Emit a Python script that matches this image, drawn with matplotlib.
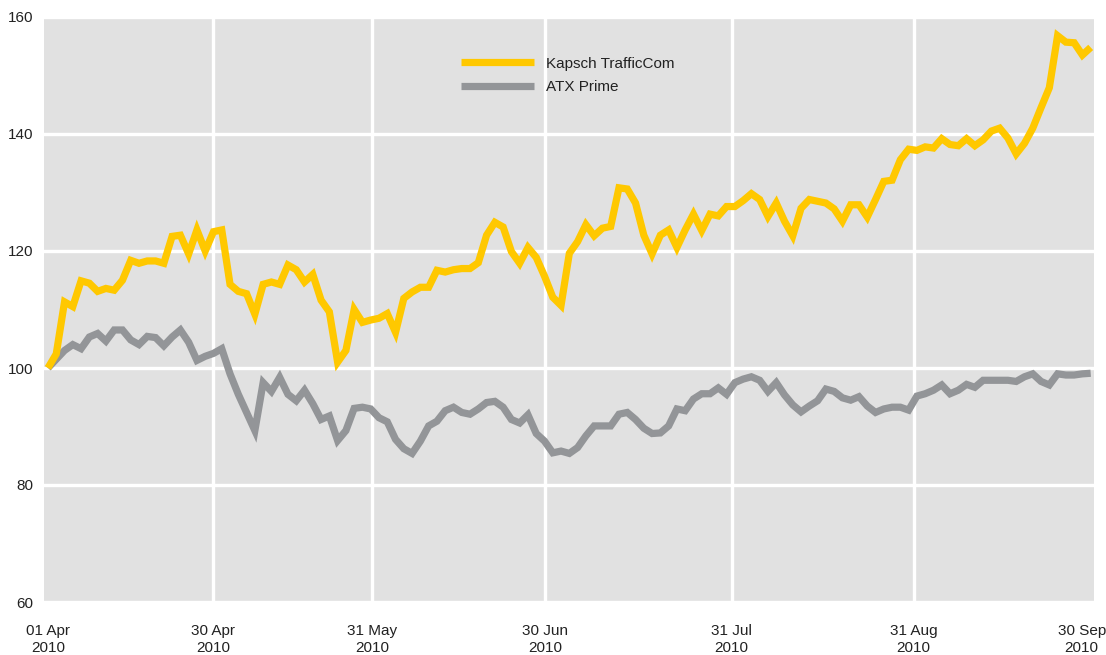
import matplotlib
matplotlib.use("Agg")
import matplotlib.pyplot as plt
import matplotlib.transforms as mtransforms


# indexed performance, 01 Apr 2010 = 100, one value per trading day
kapsch = [
    100.0, 102.4, 111.3, 110.5, 114.9, 114.5, 113.1, 113.6, 113.3, 115.0,
    118.4, 117.9, 118.3, 118.3, 117.9, 122.5, 122.7, 119.5, 123.6, 120.0,
    123.3, 123.6, 114.3, 113.1, 112.7, 109.2, 114.3, 114.7, 114.3, 117.6,
    116.8, 114.7, 116.0, 111.6, 109.6, 101.0, 103.0, 110.0, 107.8, 108.2,
    108.5, 109.3, 106.1, 111.9, 113.0, 113.8, 113.8, 116.7, 116.4, 116.8,
    117.0, 117.0, 118.0, 122.7, 124.9, 124.1, 119.9, 117.9, 120.6, 118.9,
    115.7, 112.1, 110.7, 119.6, 121.6, 124.5, 122.6, 123.9, 124.2, 130.8,
    130.6, 128.2, 122.7, 119.5, 122.7, 123.6, 120.6, 123.6, 126.3, 123.5,
    126.3, 126.0, 127.6, 127.6, 128.6, 129.8, 128.8, 125.9, 128.2, 125.1,
    122.6, 127.3, 128.8, 128.5, 128.2, 127.2, 125.1, 127.9, 127.9, 125.8,
    128.8, 131.9, 132.1, 135.6, 137.4, 137.2, 137.8, 137.6, 139.2, 138.2,
    138.0, 139.2, 138.0, 139.0, 140.5, 141.0, 139.3, 136.6, 138.4, 141.0,
    144.5, 147.9, 156.8, 155.7, 155.6, 153.5, 154.8,
]

atx = [
    100.0, 101.5, 103.0, 104.0, 103.3, 105.3, 105.9, 104.6, 106.5, 106.5,
    104.8, 104.0, 105.4, 105.2, 103.8, 105.3, 106.5, 104.4, 101.3, 102.0,
    102.5, 103.3, 99.0, 95.5, 92.4, 89.3, 97.5, 96.0, 98.4, 95.5,
    94.4, 96.2, 93.9, 91.2, 91.8, 87.6, 89.3, 93.1, 93.3, 93.0,
    91.5, 90.8, 87.8, 86.2, 85.4, 87.5, 90.1, 90.9, 92.7, 93.3,
    92.4, 92.1, 93.0, 94.1, 94.3, 93.3, 91.2, 90.6, 92.0, 88.8,
    87.5, 85.5, 85.8, 85.4, 86.4, 88.4, 90.1, 90.1, 90.1, 92.1,
    92.4, 91.2, 89.7, 88.8, 88.9, 90.1, 93.0, 92.7, 94.7, 95.6,
    95.6, 96.6, 95.5, 97.5, 98.1, 98.5, 97.9, 96.0, 97.5, 95.4,
    93.7, 92.5, 93.5, 94.4, 96.4, 96.0, 94.9, 94.5, 95.1, 93.5,
    92.4, 93.0, 93.3, 93.3, 92.8, 95.2, 95.6, 96.2, 97.1, 95.6,
    96.2, 97.2, 96.7, 97.9, 97.9, 97.9, 97.9, 97.7, 98.5, 99.0,
    97.7, 97.1, 99.0, 98.8, 98.8, 99.0, 99.1,
]

series_names = ["Kapsch TrafficCom", "ATX Prime"]

# month-end positions on the trading-day axis
tick_pos = [0, 19.95, 39.2, 60.1, 82.6, 104.6, 126]
tick_labels = ["01 Apr\n2010", "30 Apr\n2010", "31 May\n2010", "30 Jun\n2010",
               "31 Jul\n2010", "31 Aug\n2010", "30 Sep\n2010"]
y_ticks = [60, 80, 100, 120, 140, 160]

YELLOW = "#ffc800"
GREY = "#939598"
BG = "#e1e1e1"
TXT = "#222222"


def main():
    plt.rcParams['font.family'] = ['Liberation Sans', 'DejaVu Sans']

    fig = plt.figure(figsize=(11.06, 6.55), dpi=100)
    ax = fig.add_axes([44 / 1106, 53 / 655, 1050 / 1106, 585 / 655])
    ax.set_facecolor(BG)

    x = list(range(len(kapsch)))
    l_atx, = ax.plot(x, atx, color=GREY, lw=5.2, solid_joinstyle='miter',
                     solid_capstyle='butt', zorder=3)
    l_kap, = ax.plot(x, kapsch, color=YELLOW, lw=5.2, solid_joinstyle='miter',
                     solid_capstyle='butt', zorder=4)

    ax.set_xlim(-0.48, 126.4)
    ax.set_ylim(60, 160)
    ax.set_yticks(y_ticks)
    ax.set_xticks(tick_pos)
    ax.set_xticklabels(tick_labels, linespacing=1.25)

    ax.grid(True, color="white", lw=2.4, zorder=1)
    ax.set_axisbelow(True)
    # no white line at the first and last date
    glines = ax.xaxis.get_gridlines()
    glines[0].set_visible(False)
    glines[-1].set_visible(False)
    for s in ax.spines.values():
        s.set_visible(False)
    ax.tick_params(length=0, labelsize=11, labelcolor=TXT)
    ax.tick_params(axis='y', pad=8)
    ax.tick_params(axis='x', pad=16)

    # last date label sits a bit inside the figure edge
    lbl = ax.get_xticklabels()[-1]
    lbl.set_transform(lbl.get_transform() +
                      mtransforms.ScaledTranslation(-9 / 100, 0, fig.dpi_scale_trans))

    leg = ax.legend([l_kap, l_atx], series_names, loc='upper left',
                    bbox_to_anchor=(0.397, 0.932), frameon=False,
                    fontsize=11, handlelength=4.8, handletextpad=0.8,
                    labelspacing=0.62, borderpad=0, borderaxespad=0)
    for t in leg.get_texts():
        t.set_color(TXT)

    fig.savefig("out.png", dpi=100)


if __name__ == "__main__":
    main()
